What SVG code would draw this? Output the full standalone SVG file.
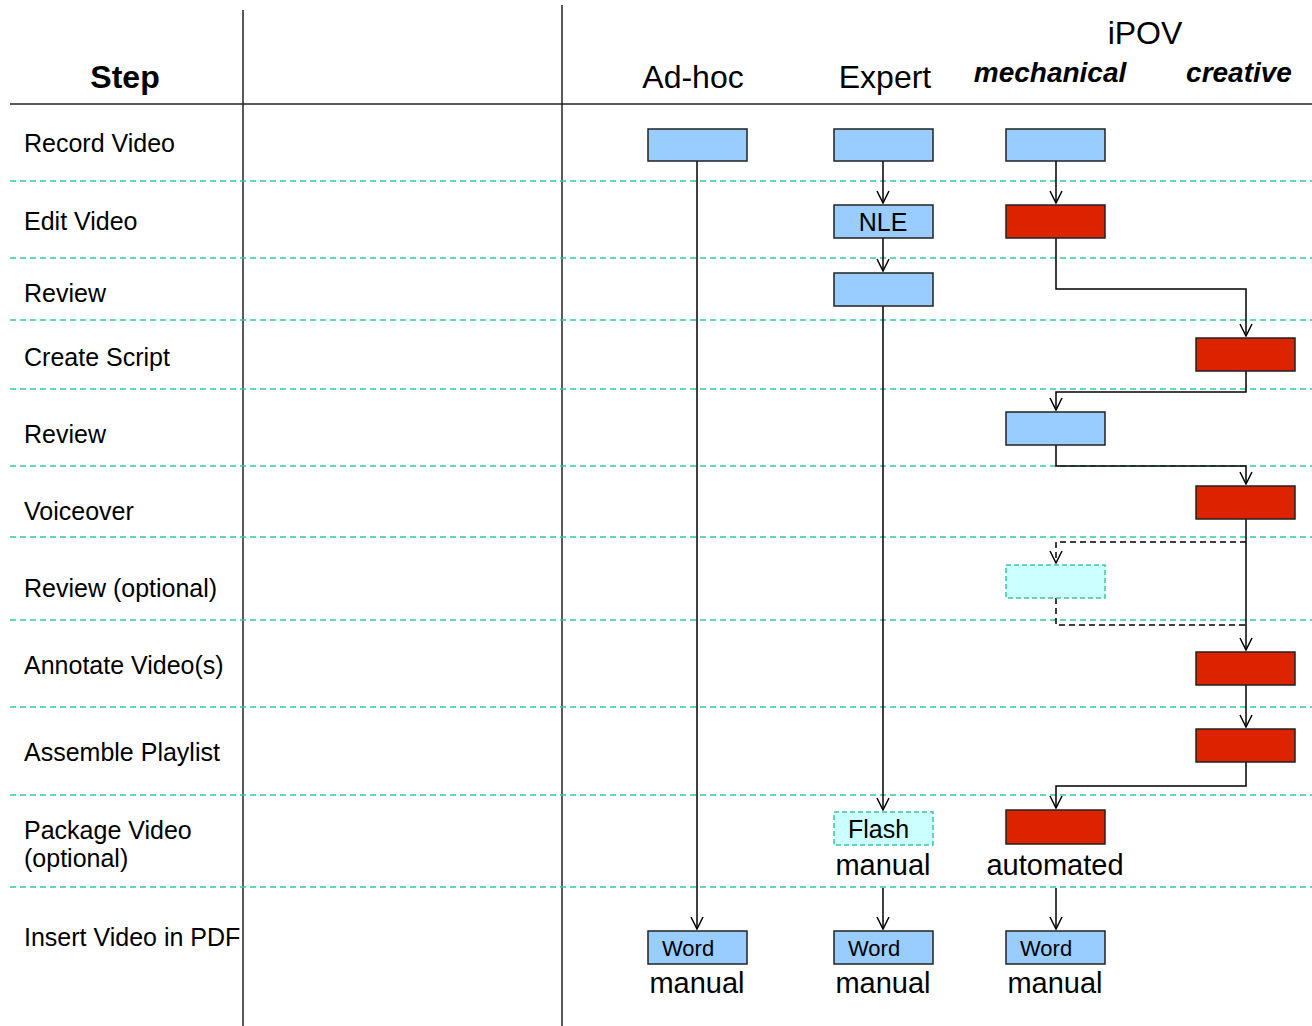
<svg xmlns="http://www.w3.org/2000/svg" width="1312" height="1026" viewBox="0 0 1312 1026">
<defs>
<marker id="ah" markerWidth="14" markerHeight="14" refX="13" refY="7" orient="auto" markerUnits="userSpaceOnUse" viewBox="0 0 14 14">
<path d="M1,1 L13,7 L1,13" fill="none" stroke="#000" stroke-width="1.5"/>
</marker>
</defs>
<style>
text{font-family:"Liberation Sans",Arial,sans-serif;fill:#000}
.lbl{font-size:25px}
.hdr{font-size:32px}
.sub{font-size:28px;font-weight:bold;font-style:italic}
.sep{stroke:#33cc99;stroke-width:1.5;stroke-dasharray:6 4;fill:none}
.grid{stroke:#222;stroke-width:1.5;fill:none}
.blue{fill:#99ccff;stroke:#222;stroke-width:1.5}
.red{fill:#dd2200;stroke:#222;stroke-width:1.5}
.opt{fill:#ccffff;stroke:#33cc99;stroke-width:1.5;stroke-dasharray:5 3}
.c{fill:none;stroke:#000;stroke-width:1.5}
.cd{fill:none;stroke:#000;stroke-width:1.5;stroke-dasharray:6 4}
.mid{text-anchor:middle}
.note{font-size:29px}
</style>
<g id="grid">
<line class="grid" x1="243" y1="10" x2="243" y2="1026"/>
<line class="grid" x1="562" y1="5" x2="562" y2="1026"/>
<line class="grid" x1="10" y1="104" x2="1312" y2="104"/>
<line class="sep" x1="10" y1="181" x2="1312" y2="181"/>
<line class="sep" x1="10" y1="258" x2="1312" y2="258"/>
<line class="sep" x1="10" y1="320" x2="1312" y2="320"/>
<line class="sep" x1="10" y1="389" x2="1312" y2="389"/>
<line class="sep" x1="10" y1="466" x2="1312" y2="466"/>
<line class="sep" x1="10" y1="537" x2="1312" y2="537"/>
<line class="sep" x1="10" y1="620" x2="1312" y2="620"/>
<line class="sep" x1="10" y1="707" x2="1312" y2="707"/>
<line class="sep" x1="10" y1="795" x2="1312" y2="795"/>
<line class="sep" x1="10" y1="887" x2="1312" y2="887"/>
</g>
<g id="headers">
<text x="125" y="88" class="mid" style="font-size:32px;font-weight:bold">Step</text>
<text x="693" y="88" class="hdr mid">Ad-hoc</text>
<text x="885" y="88" class="hdr mid">Expert</text>
<text x="1145" y="44" class="hdr mid">iPOV</text>
<text x="1050" y="82" class="sub mid">mechanical</text>
<text x="1239" y="82" class="sub mid">creative</text>
</g>
<g id="steps">
<text x="24" y="152" class="lbl">Record Video</text>
<text x="24" y="230" class="lbl">Edit Video</text>
<text x="24" y="302" class="lbl">Review</text>
<text x="24" y="366" class="lbl">Create Script</text>
<text x="24" y="443" class="lbl">Review</text>
<text x="24" y="520" class="lbl">Voiceover</text>
<text x="24" y="597" class="lbl">Review (optional)</text>
<text x="24" y="674" class="lbl">Annotate Video(s)</text>
<text x="24" y="761" class="lbl">Assemble Playlist</text>
<text x="24" y="839" class="lbl">Package Video</text>
<text x="24" y="867" class="lbl">(optional)</text>
<text x="24" y="946" class="lbl">Insert Video in PDF</text>
</g>
<g id="connectors">
<line class="c" x1="697" y1="161" x2="697" y2="929" marker-end="url(#ah)"/>
<line class="c" x1="883" y1="161" x2="883" y2="203" marker-end="url(#ah)"/>
<line class="c" x1="883" y1="238" x2="883" y2="271" marker-end="url(#ah)"/>
<line class="c" x1="883" y1="306" x2="883" y2="810" marker-end="url(#ah)"/>
<line class="c" x1="883" y1="888" x2="883" y2="929" marker-end="url(#ah)"/>
<line class="c" x1="1056" y1="161" x2="1056" y2="203" marker-end="url(#ah)"/>
<polyline class="c" points="1056,238 1056,289 1246,289 1246,336" marker-end="url(#ah)"/>
<polyline class="c" points="1246,371 1246,392 1056,392 1056,410" marker-end="url(#ah)"/>
<polyline class="c" points="1056,445 1056,466 1246,466 1246,484" marker-end="url(#ah)"/>
<line class="c" x1="1246" y1="519" x2="1246" y2="650" marker-end="url(#ah)"/>
<polyline class="cd" points="1246,542 1056,542 1056,563" marker-end="url(#ah)"/>
<polyline class="cd" points="1056,598 1056,625 1246,625"/>
<line class="c" x1="1246" y1="685" x2="1246" y2="727" marker-end="url(#ah)"/>
<polyline class="c" points="1246,762 1246,786 1056,786 1056,808" marker-end="url(#ah)"/>
<line class="c" x1="1056" y1="888" x2="1056" y2="929" marker-end="url(#ah)"/>
</g>
<g id="n-adhoc-record"><rect class="blue" x="648" y="129" width="99" height="32"/></g>
<g id="n-expert-record"><rect class="blue" x="834" y="129" width="99" height="32"/></g>
<g id="n-mech-record"><rect class="blue" x="1006" y="129" width="99" height="32"/></g>
<g id="n-expert-nle"><rect class="blue" x="834" y="205" width="99" height="33"/><text x="883" y="231" class="lbl mid">NLE</text></g>
<g id="n-mech-edit"><rect class="red" x="1006" y="205" width="99" height="33"/></g>
<g id="n-expert-review"><rect class="blue" x="834" y="273" width="99" height="33"/></g>
<g id="n-creative-script"><rect class="red" x="1196" y="338" width="99" height="33"/></g>
<g id="n-mech-review"><rect class="blue" x="1006" y="412" width="99" height="33"/></g>
<g id="n-creative-voice"><rect class="red" x="1196" y="486" width="99" height="33"/></g>
<g id="n-mech-review-opt"><rect class="opt" x="1006" y="565" width="99" height="33"/></g>
<g id="n-creative-annotate"><rect class="red" x="1196" y="652" width="99" height="33"/></g>
<g id="n-creative-assemble"><rect class="red" x="1196" y="729" width="99" height="33"/></g>
<g id="n-expert-flash"><rect class="opt" x="834" y="812" width="99" height="33"/><text x="848" y="838" class="lbl">Flash</text></g>
<g id="n-mech-package"><rect class="red" x="1006" y="810" width="99" height="34"/></g>
<text x="883" y="875" class="note mid">manual</text>
<text x="1055" y="875" class="note mid">automated</text>
<g id="n-adhoc-word"><rect class="blue" x="648" y="931" width="99" height="33"/><text x="662" y="956" style="font-size:22px">Word</text></g>
<g id="n-expert-word"><rect class="blue" x="834" y="931" width="99" height="33"/><text x="848" y="956" style="font-size:22px">Word</text></g>
<g id="n-mech-word"><rect class="blue" x="1006" y="931" width="99" height="33"/><text x="1020" y="956" style="font-size:22px">Word</text></g>
<text x="697" y="993" class="note mid">manual</text>
<text x="883" y="993" class="note mid">manual</text>
<text x="1055" y="993" class="note mid">manual</text>
</svg>
